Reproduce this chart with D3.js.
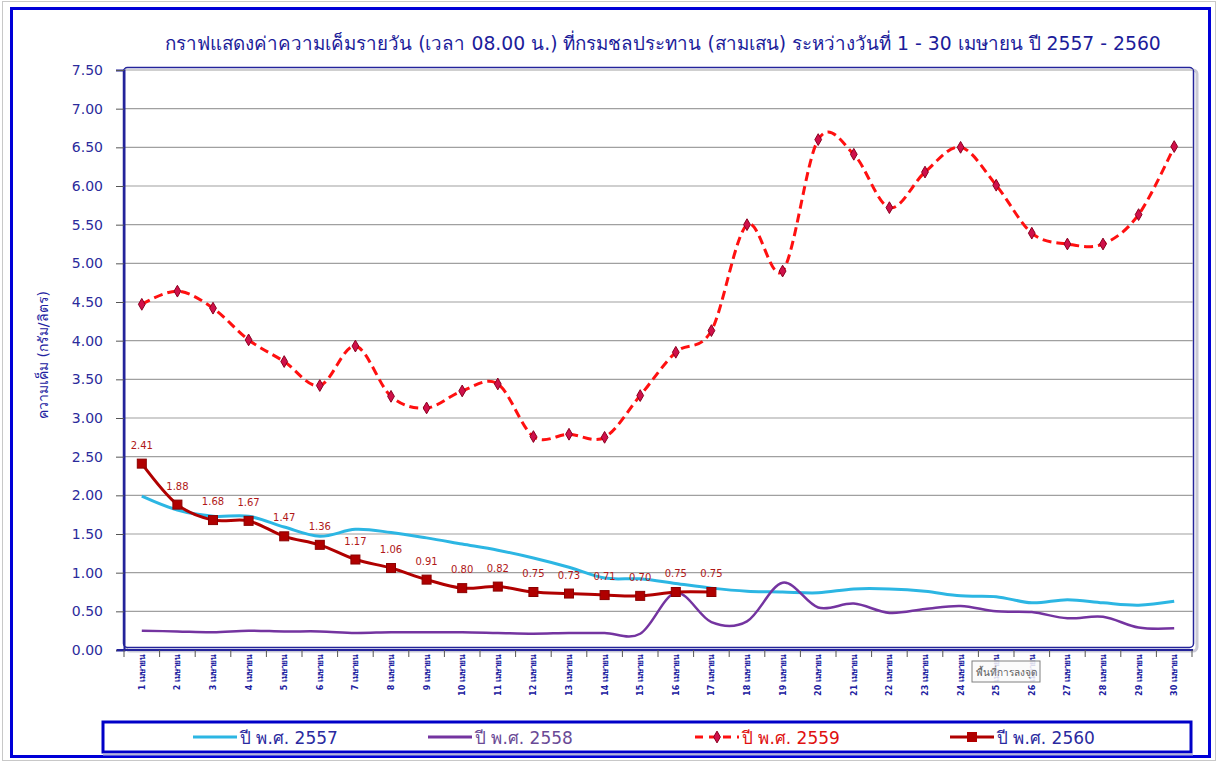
<!DOCTYPE html>
<html>
<head>
<meta charset="utf-8" />
<title>ความเค็มรายวัน เมษายน 2557 - 2560</title>
<script src="https://cdn.jsdelivr.net/npm/d3@7"></script>
<style>
  body { margin: 0; padding: 0; background: #fff; }
  svg { display: block; font-family: Tahoma, "DejaVu Sans", "Noto Sans", sans-serif; }
  .ytick text { fill: #2b2b9c; font-size: 14px; }
  .xlab { fill: #2020a0; font-size: 8px; font-weight: bold; }
  .grid line { stroke: #a0a0a0; stroke-width: 1.2px; }
  .lbl { fill: #b01818; font-size: 10px; }
</style>
</head>
<body>
<svg id="chart" width="1219" height="763"></svg>
<script>
// categories
var days = d3.range(1, 31);
var dayLabels = days.map(function(d) { return d + " เมษายน"; });

// series values (กรัม/ลิตร)
var y2557 = [1.99, 1.81, 1.73, 1.73, 1.59, 1.47, 1.56, 1.52, 1.45, 1.37,
             1.29, 1.19, 1.07, 0.93, 0.92, 0.86, 0.80, 0.76, 0.75, 0.74,
             0.79, 0.79, 0.76, 0.70, 0.69, 0.61, 0.65, 0.61, 0.58, 0.63];
var y2558 = [0.25, 0.24, 0.23, 0.25, 0.24, 0.24, 0.22, 0.23, 0.23, 0.23,
             0.22, 0.21, 0.22, 0.22, 0.21, 0.74, 0.36, 0.37, 0.87, 0.55,
             0.60, 0.48, 0.53, 0.57, 0.50, 0.49, 0.41, 0.43, 0.29, 0.28];
var y2559 = [4.47, 4.64, 4.42, 4.01, 3.73, 3.42, 3.93, 3.28, 3.13, 3.35,
             3.44, 2.76, 2.79, 2.75, 3.29, 3.85, 4.13, 5.50, 4.90, 6.60,
             6.41, 5.72, 6.18, 6.50, 6.01, 5.39, 5.25, 5.25, 5.63, 6.51];
var y2560 = [2.41, 1.88, 1.68, 1.67, 1.47, 1.36, 1.17, 1.06, 0.91, 0.80,
             0.82, 0.75, 0.73, 0.71, 0.70, 0.75, 0.75];

var yTicks = d3.range(0, 7.51, 0.5);
var seriesNames = ["ปี พ.ศ. 2557", "ปี พ.ศ. 2558", "ปี พ.ศ. 2559", "ปี พ.ศ. 2560"];

var svg = d3.select("#chart");

// outer frames
svg.append("rect").attr("x", 2.5).attr("y", 1.5).attr("width", 1213).attr("height", 759)
    .attr("fill", "none").attr("stroke", "#c8c8c8").attr("stroke-width", 1);
svg.append("rect").attr("x", 11.5).attr("y", 8.5).attr("width", 1198).attr("height", 748)
    .attr("fill", "#fff").attr("stroke", "#0000d8").attr("stroke-width", 3);

// title
svg.append("text")
    .attr("x", 663).attr("y", 50)
    .attr("text-anchor", "middle")
    .attr("fill", "#1c1c9a")
    .style("font-size", "18.8px")
    .text("กราฟแสดงค่าความเค็มรายวัน (เวลา 08.00 น.) ที่กรมชลประทาน (สามเสน) ระหว่างวันที่ 1 - 30 เมษายน  ปี 2557 - 2560");

// scales
var x = d3.scaleBand().domain(days).range([124, 1192]);
var cx = function(d) { return x(d) + x.bandwidth() / 2; };
var y = d3.scaleLinear().domain([0, 7.5]).range([650, 70]);

// plot area box with a soft shadow
svg.append("rect").attr("x", 126).attr("y", 70).attr("width", 1071).attr("height", 581)
    .attr("rx", 4).attr("fill", "none").attr("stroke", "#c9c9d6").attr("stroke-width", 3);
svg.append("rect").attr("x", 123.5).attr("y", 67.5).attr("width", 1070).attr("height", 580)
    .attr("rx", 4).attr("fill", "#fff").attr("stroke", "#24249a").attr("stroke-width", 1.5);

// gridlines
svg.append("g").attr("class", "grid")
  .selectAll("line").data(yTicks.slice(1)).enter().append("line")
    .attr("x1", 124).attr("x2", 1193)
    .attr("y1", function(d) { return y(d); })
    .attr("y2", function(d) { return y(d); });

// y axis
var yAxis = svg.append("g").attr("class", "ytick")
    .attr("transform", "translate(124,0)")
    .call(d3.axisLeft(y).tickValues(yTicks).tickFormat(d3.format(".2f")).tickSize(8).tickPadding(13));
yAxis.select(".domain").attr("stroke", "#24249a").attr("stroke-width", 2);
yAxis.selectAll(".tick line").attr("stroke", "#555");
yAxis.selectAll("text").style("font-family", "Tahoma, 'DejaVu Sans', sans-serif");

svg.append("text")
    .attr("transform", "translate(48," + 355 + ") rotate(-90)")
    .attr("text-anchor", "middle")
    .attr("fill", "#2020a0")
    .style("font-size", "14px")
    .text("ความเค็ม (กรัม/ลิตร)");

// x axis
svg.append("line").attr("x1", 117).attr("x2", 1193).attr("y1", 650).attr("y2", 650)
    .attr("stroke", "#24249a").attr("stroke-width", 2);
svg.append("g").selectAll("line").data(days.concat([31])).enter().append("line")
    .attr("x1", function(d) { return d === 31 ? 1192 : x(d); })
    .attr("x2", function(d) { return d === 31 ? 1192 : x(d); })
    .attr("y1", 650).attr("y2", 657)
    .attr("stroke", "#555");
svg.append("g").selectAll("text").data(days).enter().append("text")
    .attr("class", "xlab")
    .attr("text-anchor", "end")
    .attr("transform", function(d) { return "translate(" + (cx(d) + 3) + ",655) rotate(-90)"; })
    .text(function(d, i) { return dayLabels[i]; });

// lines
function lineFor(vals) {
  return d3.line()
      .x(function(d, i) { return cx(days[i]); })
      .y(function(d) { return y(d); })
      .curve(d3.curveCardinal.tension(0))(vals);
}

var plot = svg.append("g");
plot.append("path").attr("d", lineFor(y2557))
    .attr("fill", "none").attr("stroke", "#2cb6e3").attr("stroke-width", 3);
plot.append("path").attr("d", lineFor(y2558))
    .attr("fill", "none").attr("stroke", "#7434a0").attr("stroke-width", 2.5);
plot.append("path").attr("d", lineFor(y2559))
    .attr("fill", "none").attr("stroke", "#ff1010").attr("stroke-width", 3)
    .attr("stroke-dasharray", "9,5");
plot.append("path").attr("d", lineFor(y2560))
    .attr("fill", "none").attr("stroke", "#b00000").attr("stroke-width", 3);

// markers 2559: diamonds
var diamond = d3.symbol().type(d3.symbolDiamond).size(40);
plot.selectAll(".m59").data(y2559).enter().append("path")
    .attr("class", "m59")
    .attr("d", diamond)
    .attr("transform", function(d, i) { return "translate(" + cx(days[i]) + "," + y(d) + ")"; })
    .attr("fill", "#d0104a").attr("stroke", "#8a0020").attr("stroke-width", 1);

// markers 2560: squares
plot.selectAll(".m60").data(y2560).enter().append("rect")
    .attr("class", "m60")
    .attr("x", function(d, i) { return cx(days[i]) - 4.5; })
    .attr("y", function(d) { return y(d) - 4.5; })
    .attr("width", 9).attr("height", 9)
    .attr("fill", "#b00000").attr("stroke", "#8a0000").attr("stroke-width", 1);

// data labels 2560
plot.selectAll(".lbl").data(y2560).enter().append("text")
    .attr("class", "lbl")
    .attr("text-anchor", "middle")
    .attr("x", function(d, i) { return cx(days[i]); })
    .attr("y", function(d) { return y(d) - 15; })
    .text(function(d) { return d3.format(".2f")(d); });

// tooltip-like box left by the source program
var tip = svg.append("g").attr("transform", "translate(972,661)");
tip.append("rect").attr("width", 68).attr("height", 21)
    .attr("fill", "#fafafa").attr("fill-opacity", 0.85).attr("stroke", "#808080");
tip.append("text").attr("x", 34).attr("y", 15).attr("text-anchor", "middle")
    .attr("fill", "#606060").style("font-size", "10px").text("พื้นที่การลงจุด");

// legend
svg.append("rect").attr("x", 103).attr("y", 722).attr("width", 1088).attr("height", 30)
    .attr("fill", "#fff").attr("stroke", "#0000c8").attr("stroke-width", 3);
svg.append("line").attr("x1", 103).attr("x2", 1193).attr("y1", 754.5).attr("y2", 754.5)
    .attr("stroke", "#b4b4d8").attr("stroke-width", 2);

var legendX = [193, 428, 695, 950];
var legendColors = ["#2cb6e3", "#7434a0", "#ff1010", "#b00000"];
var legendText = ["#2a2aa0", "#6a4a96", "#e01010", "#2a2aa0"];
var lg = svg.append("g").selectAll("g").data(seriesNames).enter().append("g")
    .attr("transform", function(d, i) { return "translate(" + legendX[i] + ",737)"; });
lg.append("line").attr("x1", 0).attr("x2", 44).attr("y1", 0).attr("y2", 0)
    .attr("stroke", function(d, i) { return legendColors[i]; })
    .attr("stroke-width", 3)
    .attr("stroke-dasharray", function(d, i) { return i === 2 ? "8,6" : null; });
lg.filter(function(d, i) { return i === 2; }).append("path")
    .attr("d", diamond).attr("transform", "translate(22,0)")
    .attr("fill", "#d0104a").attr("stroke", "#8a0020");
lg.filter(function(d, i) { return i === 3; }).append("rect")
    .attr("x", 17).attr("y", -5).attr("width", 10).attr("height", 10)
    .attr("fill", "#b00000");
lg.append("text").attr("x", 47).attr("y", 7)
    .attr("fill", function(d, i) { return legendText[i]; })
    .style("font-size", "17px")
    .text(function(d) { return d; });
</script>
</body>
</html>
